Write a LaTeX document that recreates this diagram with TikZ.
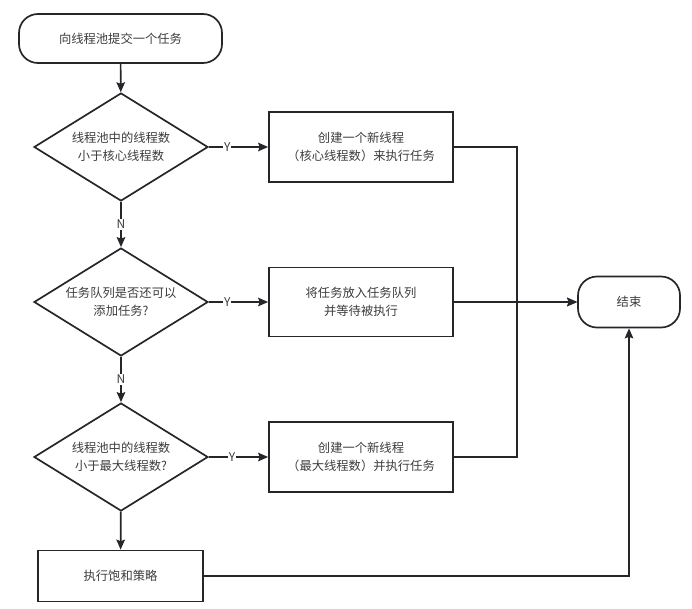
\documentclass[tikz,border=0pt]{standalone}
\usepackage{fontspec}
\setmainfont{Noto Sans CJK SC}
\usetikzlibrary{shapes.geometric,arrows.meta}
\definecolor{linec}{RGB}{36,38,42}
\definecolor{textc}{RGB}{60,60,60}
\begin{document}
\begin{tikzpicture}[x=1pt,y=-1pt,
  every node/.style={font=\fontsize{12.3}{18}\selectfont, text=textc},
  term/.style={draw=linec, line width=1.7pt, rounded corners=19pt, inner sep=0pt},
  proc/.style={draw=linec, line width=1.7pt, inner sep=0pt, align=center},
  decide/.style={draw=linec, line width=1.7pt, diamond, aspect=1.61, inner sep=0pt,
    minimum width=174pt, minimum height=108pt, align=center},
  conn/.style={draw=linec, line width=1.7pt},
  arr/.style={conn, -{Stealth[length=10pt,width=8.5pt,inset=1.5pt]}},
  lbl/.style={fill=white, inner sep=1pt, font=\fontsize{12}{14}\selectfont}]
\useasboundingbox (0,0) rectangle (692,608);
\node[term, minimum width=203pt, minimum height=49pt] (start) at (120.5,38.5) {向线程池提交一个任务};
\node[decide] (d1) at (121,147) {线程池中的线程数\\小于核心线程数};
\node[decide] (d2) at (121,302) {任务队列是否还可以\\添加任务?};
\node[decide] (d3) at (121,457) {线程池中的线程数\\小于最大线程数?};
\node[proc, minimum width=184pt, minimum height=70pt] (b1) at (361,147) {创建一个新线程\\（核心线程数）来执行任务};
\node[proc, minimum width=184pt, minimum height=69pt] (b2) at (361,302) {将任务放入任务队列\\并等待被执行};
\node[proc, minimum width=184pt, minimum height=70pt] (b3) at (361,457) {创建一个新线程\\（最大线程数）并执行任务};
\node[proc, minimum width=165pt, minimum height=51pt] (b4) at (120.5,576) {执行饱和策略};
\node[term, minimum width=102pt, minimum height=51pt] (end) at (629,302) {结束};
\coordinate (j1) at (517,147);
\coordinate (j2) at (517,302);
\coordinate (j3) at (517,457);
\draw[arr] (start) -- (d1);
\draw[arr] (d1) -- node[lbl, pos=0.31] {Y} (b1);
\draw[arr] (d2) -- node[lbl, pos=0.31] {Y} (b2);
\draw[arr] (d3) -- node[lbl, pos=0.39] {Y} (b3);
\draw[arr] (d1) -- node[lbl] {N} (d2);
\draw[arr] (d2) -- node[lbl] {N} (d3);
\draw[arr] (d3) -- (b4);
\draw[arr] (b1.east) -- (j1) -- (j2) -- (end.west);
\draw[conn] (b3.east) -- (j3) -- (j2);
\draw[arr] (b2.east) -- (end.west);
\draw[arr] (b4.east) -| (end.south);
\end{tikzpicture}
\end{document}
